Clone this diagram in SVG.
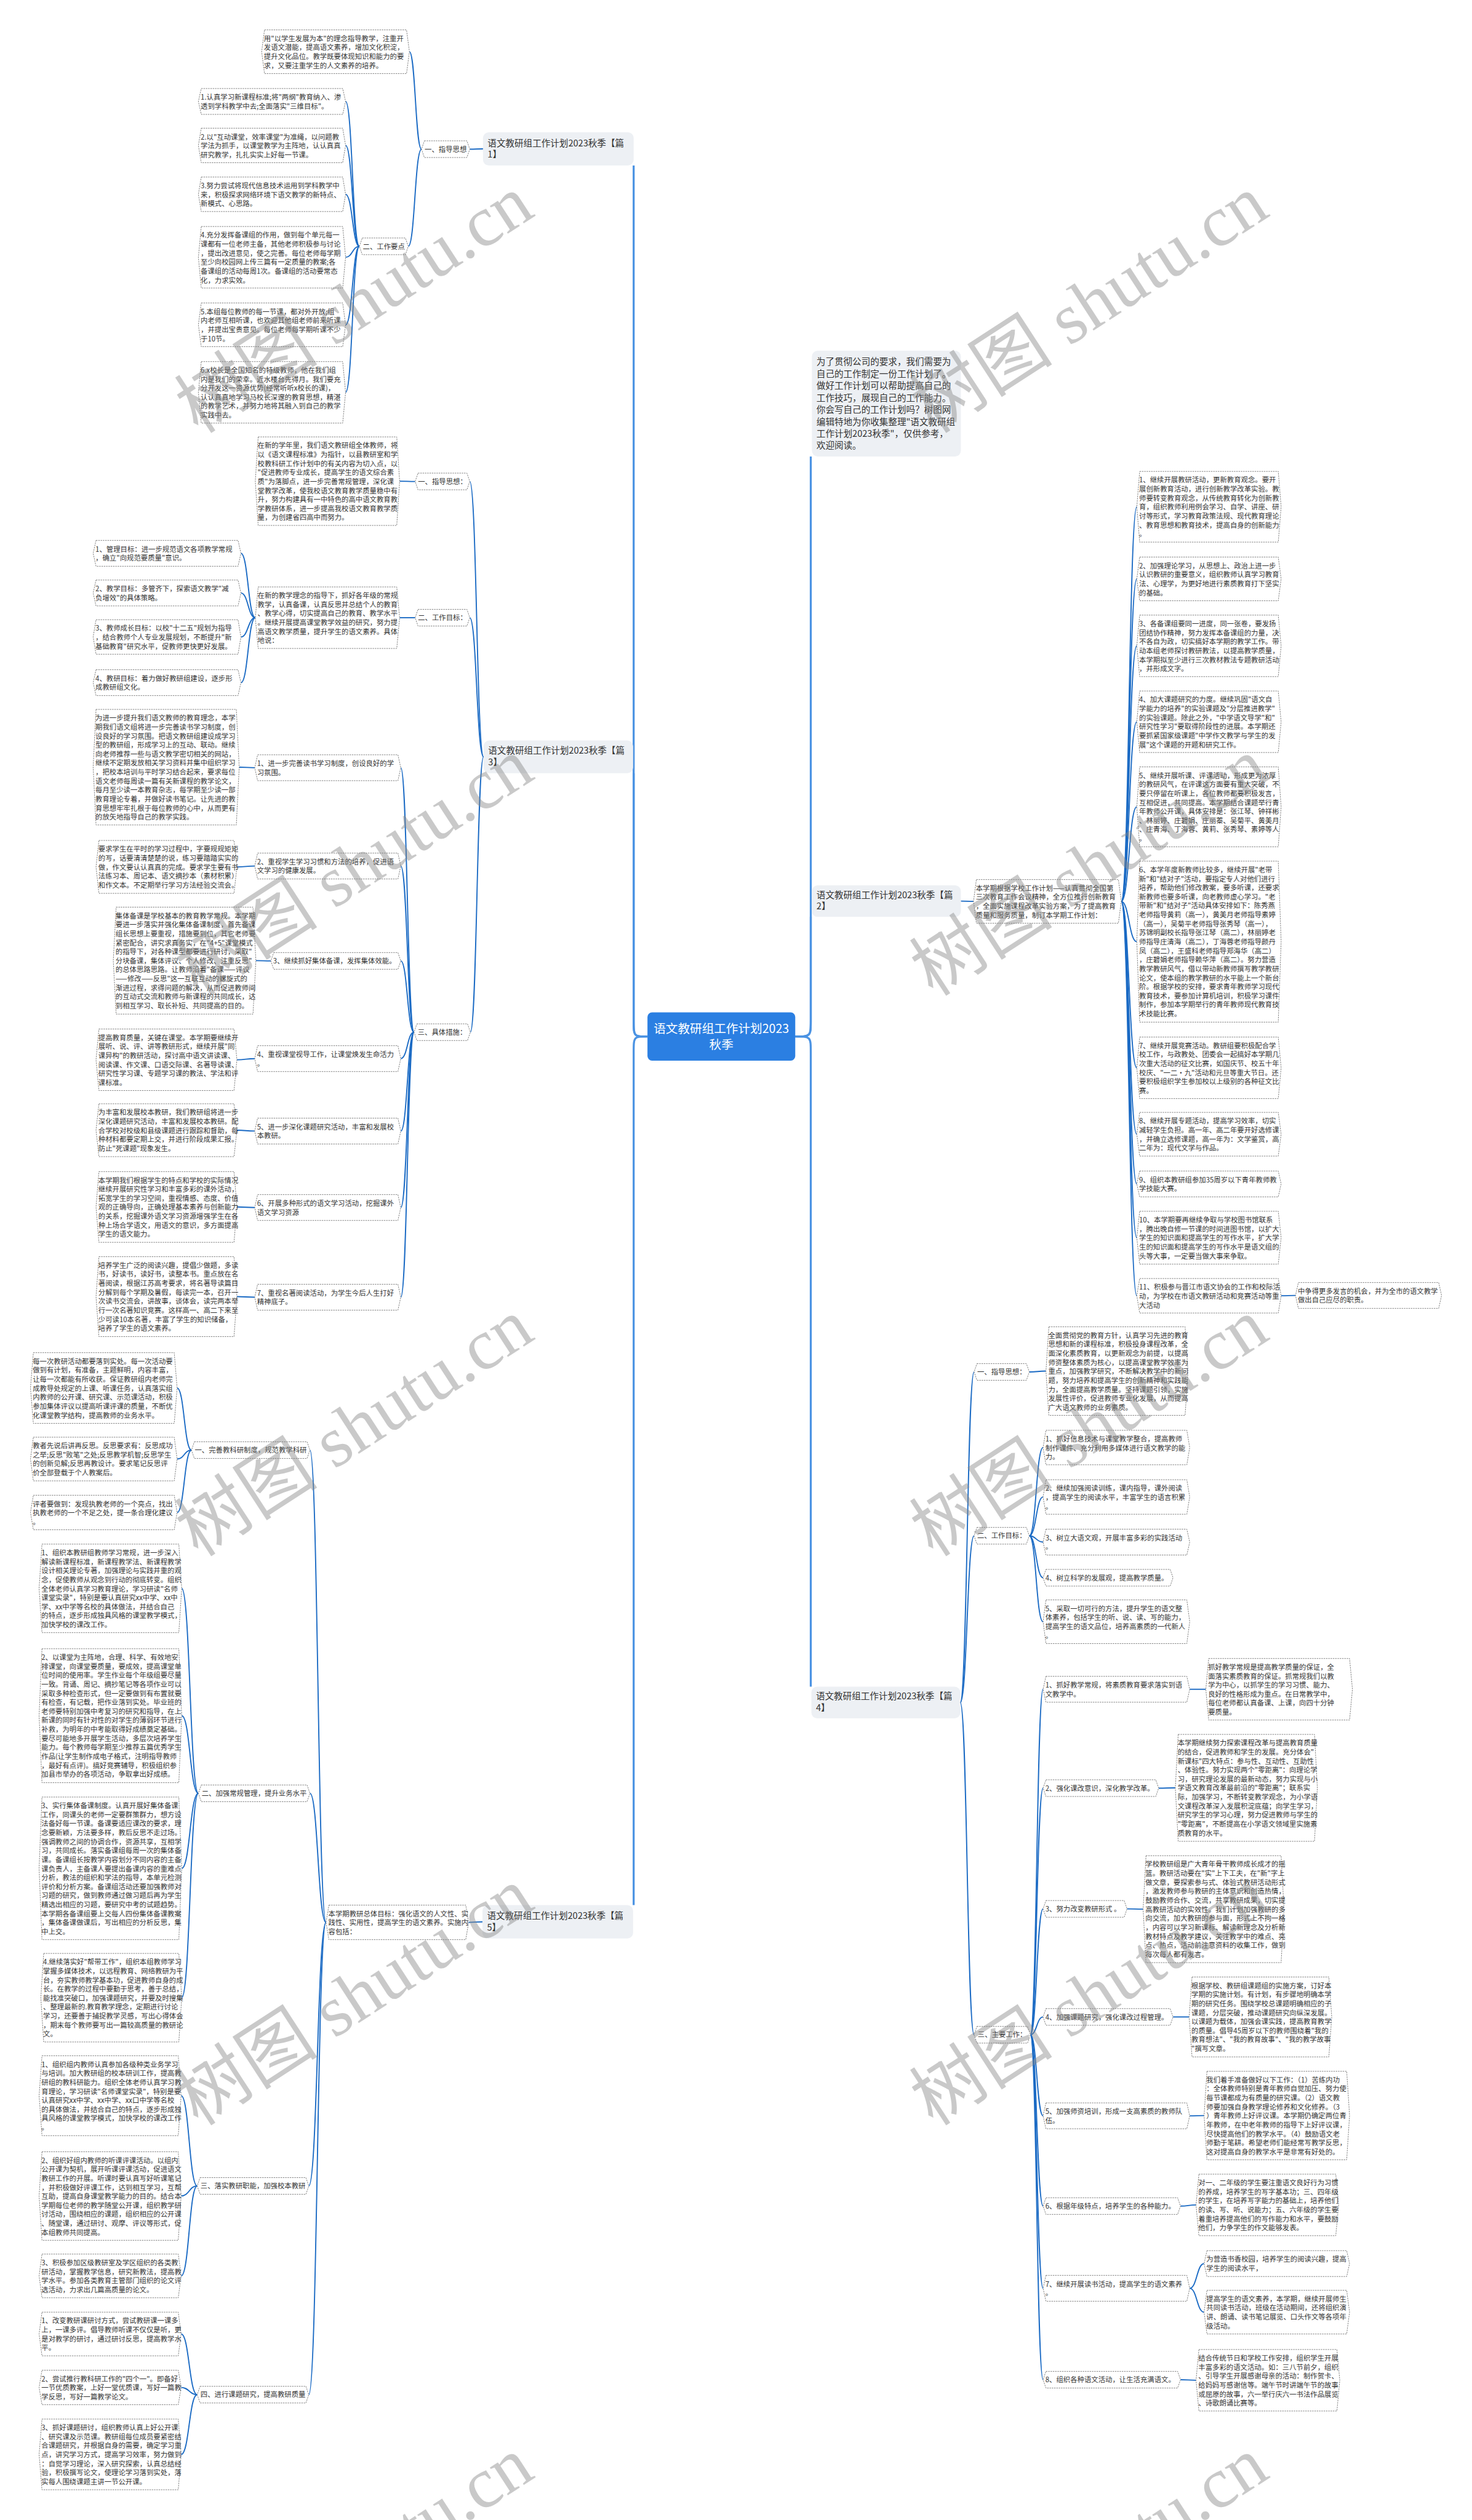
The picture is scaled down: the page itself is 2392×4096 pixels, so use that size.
<svg xmlns="http://www.w3.org/2000/svg" width="2392" height="4096" viewBox="0 0 2392 4096">
<style>
.hx{fill:#fff;stroke:#777;stroke-width:1;stroke-dasharray:2.5 1.5}
.t{font-family:"Noto Sans CJK SC","Liberation Sans",sans-serif;font-size:12.2px;fill:#333}
.tc{text-anchor:middle}
.lb{fill:#edf0f4}
.lt{font-family:"Noto Sans CJK SC","Liberation Sans",sans-serif;font-size:15.6px;fill:#333}
.rt{font-family:"Noto Sans CJK SC","Liberation Sans",sans-serif;font-size:21px;fill:#fff;text-anchor:middle}
.c{fill:none;stroke:#1a6ac4;stroke-width:2}
.r{fill:none;stroke:#4b93e3;stroke-width:3.5}
.wm{font-family:"Liberation Serif","Noto Sans CJK SC",serif;font-size:125px;fill:#888;fill-opacity:.45}
</style>
<rect width="2392" height="4096" fill="#fff"/>
<g transform="scale(0.9344)">
<g id="connectors">
<path class="r" d="M1126,1803C1102,1803 1102,1803 1102,1775L1102,288"/>
<path class="r" d="M1126,1803C1102,1803 1102,1803 1102,1775L1102,1345"/>
<path class="r" d="M1126,1803C1102,1803 1102,1803 1102,1831L1102,3314"/>
<path class="r" d="M1383,1803C1410,1803 1410,1803 1410,1775L1410,794"/>
<path class="r" d="M1383,1803C1410,1803 1410,1803 1410,1775L1410,1595"/>
<path class="r" d="M1383,1803C1410,1803 1410,1803 1410,1831L1410,2934"/>
<path class="c" d="M840,259C828.5,259 828.5,259.5 817,259.5"/>
<path class="c" d="M733,259.5C722.5,259.5 722.5,90 712,90"/>
<path class="c" d="M733,259.5C721.5,259.5 721.5,428.5 710,428.5"/>
<path class="c" d="M625,428.5C613,428.5 613,176.5 601,176.5"/>
<path class="c" d="M625,428.5C613,428.5 613,253 601,253"/>
<path class="c" d="M625,428.5C613,428.5 613,338 601,338"/>
<path class="c" d="M625,428.5C613,428.5 613,447.5 601,447.5"/>
<path class="c" d="M625,428.5C613,428.5 613,565 601,565"/>
<path class="c" d="M625,428.5C613,428.5 613,682.5 601,682.5"/>
<path class="c" d="M841,1316.5C829,1316.5 829,837.5 817,837.5"/>
<path class="c" d="M841,1316.5C829,1316.5 829,1074.5 817,1074.5"/>
<path class="c" d="M841,1316.5C829.5,1316.5 829.5,1795.5 818,1795.5"/>
<path class="c" d="M722,837.5C708.5,837.5 708.5,837 695,837"/>
<path class="c" d="M722,1074.5L695,1074.5"/>
<path class="c" d="M444,1074.5C431.5,1074.5 431.5,962.5 419,962.5"/>
<path class="c" d="M444,1074.5C431.5,1074.5 431.5,1031.5 419,1031.5"/>
<path class="c" d="M444,1074.5C431.5,1074.5 431.5,1108 419,1108"/>
<path class="c" d="M444,1074.5C431.5,1074.5 431.5,1187.5 419,1187.5"/>
<path class="c" d="M720,1795.5C708.5,1795.5 708.5,1335.5 697,1335.5"/>
<path class="c" d="M720,1795.5C708.5,1795.5 708.5,1506.5 697,1506.5"/>
<path class="c" d="M720,1795.5C708.5,1795.5 708.5,1671.5 697,1671.5"/>
<path class="c" d="M720,1795.5C708.5,1795.5 708.5,1841.5 697,1841.5"/>
<path class="c" d="M720,1795.5C708.5,1795.5 708.5,1967.5 697,1967.5"/>
<path class="c" d="M720,1795.5C708.5,1795.5 708.5,2100.5 697,2100.5"/>
<path class="c" d="M720,1795.5C708.5,1795.5 708.5,2256.5 697,2256.5"/>
<path class="c" d="M443,1335.5C429.5,1335.5 429.5,1334.5 416,1334.5"/>
<path class="c" d="M443,1506.5C427.5,1506.5 427.5,1508 412,1508"/>
<path class="c" d="M471,1671.5C458,1671.5 458,1671 445,1671"/>
<path class="c" d="M443,1841.5C427.5,1841.5 427.5,1843.5 412,1843.5"/>
<path class="c" d="M443,1967.5C427.5,1967.5 427.5,1966 412,1966"/>
<path class="c" d="M443,2100.5C427.5,2100.5 427.5,2099.5 412,2099.5"/>
<path class="c" d="M443,2256.5C427.5,2256.5 427.5,2255.5 412,2255.5"/>
<path class="c" d="M839,3343C827,3343 827,3344 815,3344"/>
<path class="c" d="M567,3344C553,3344 553,2522.5 539,2522.5"/>
<path class="c" d="M567,3344C553,3344 553,3119.5 539,3119.5"/>
<path class="c" d="M567,3344C552,3344 552,3802.5 537,3802.5"/>
<path class="c" d="M567,3344C552,3344 552,4165.5 537,4165.5"/>
<path class="c" d="M333,2522.5C320.5,2522.5 320.5,2414.5 308,2414.5"/>
<path class="c" d="M333,2522.5C320.5,2522.5 320.5,2538 308,2538"/>
<path class="c" d="M333,2522.5C320.5,2522.5 320.5,2631 308,2631"/>
<path class="c" d="M345,3119.5C330.5,3119.5 330.5,2763 316,2763"/>
<path class="c" d="M345,3119.5C330.5,3119.5 330.5,2984.5 316,2984.5"/>
<path class="c" d="M345,3119.5C330.5,3119.5 330.5,3250 316,3250"/>
<path class="c" d="M345,3119.5C330.5,3119.5 330.5,3475 316,3475"/>
<path class="c" d="M343,3802.5C329,3802.5 329,3645.5 315,3645.5"/>
<path class="c" d="M343,3802.5C329,3802.5 329,3820 315,3820"/>
<path class="c" d="M343,3802.5C329,3802.5 329,3959 315,3959"/>
<path class="c" d="M343,4165.5C329,4165.5 329,4060 315,4060"/>
<path class="c" d="M343,4165.5C329,4165.5 329,4153 315,4153"/>
<path class="c" d="M343,4165.5C329,4165.5 329,4269.5 315,4269.5"/>
<path class="c" d="M1671,1567.5C1682,1567.5 1682,1568 1693,1568"/>
<path class="c" d="M1950,1568C1963.5,1568 1963.5,881.5 1977,881.5"/>
<path class="c" d="M1950,1568C1963.5,1568 1963.5,1007 1977,1007"/>
<path class="c" d="M1950,1568C1963.5,1568 1963.5,1123.5 1977,1123.5"/>
<path class="c" d="M1950,1568C1963.5,1568 1963.5,1255.5 1977,1255.5"/>
<path class="c" d="M1950,1568C1963.5,1568 1963.5,1403.5 1977,1403.5"/>
<path class="c" d="M1950,1568C1963.5,1568 1963.5,1638 1977,1638"/>
<path class="c" d="M1950,1568C1963.5,1568 1963.5,1857.5 1977,1857.5"/>
<path class="c" d="M1950,1568C1963.5,1568 1963.5,1973 1977,1973"/>
<path class="c" d="M1950,1568C1963.5,1568 1963.5,2059.5 1977,2059.5"/>
<path class="c" d="M1950,1568C1963.5,1568 1963.5,2153 1977,2153"/>
<path class="c" d="M1950,1568C1963.5,1568 1963.5,2254 1977,2254"/>
<path class="c" d="M2228,2254C2240.5,2254 2240.5,2253.5 2253,2253.5"/>
<path class="c" d="M1670,2961.5C1682,2961.5 1682,2386.5 1694,2386.5"/>
<path class="c" d="M1670,2961.5C1682,2961.5 1682,2671.5 1694,2671.5"/>
<path class="c" d="M1670,2961.5C1682,2961.5 1682,3539.5 1694,3539.5"/>
<path class="c" d="M1790,2386.5C1804.5,2386.5 1804.5,2385 1819,2385"/>
<path class="c" d="M1790,2671.5C1802,2671.5 1802,2518 1814,2518"/>
<path class="c" d="M1790,2671.5C1802,2671.5 1802,2604 1814,2604"/>
<path class="c" d="M1790,2671.5C1802,2671.5 1802,2682.5 1814,2682.5"/>
<path class="c" d="M1790,2671.5C1802,2671.5 1802,2744.5 1814,2744.5"/>
<path class="c" d="M1790,2671.5C1802,2671.5 1802,2821 1814,2821"/>
<path class="c" d="M1792,3539.5C1803,3539.5 1803,2938.5 1814,2938.5"/>
<path class="c" d="M1792,3539.5C1803,3539.5 1803,3110.5 1814,3110.5"/>
<path class="c" d="M1792,3539.5C1803,3539.5 1803,3320.5 1814,3320.5"/>
<path class="c" d="M1792,3539.5C1803,3539.5 1803,3508.5 1814,3508.5"/>
<path class="c" d="M1792,3539.5C1803,3539.5 1803,3680.5 1814,3680.5"/>
<path class="c" d="M1792,3539.5C1803,3539.5 1803,3837.5 1814,3837.5"/>
<path class="c" d="M1792,3539.5C1803,3539.5 1803,3980.5 1814,3980.5"/>
<path class="c" d="M1792,3539.5C1803,3539.5 1803,4139.5 1814,4139.5"/>
<path class="c" d="M2069,2938.5L2097,2938.5"/>
<path class="c" d="M2015,3110.5C2029.5,3110.5 2029.5,3110 2044,3110"/>
<path class="c" d="M1960,3320.5C1974,3320.5 1974,3321 1988,3321"/>
<path class="c" d="M2040,3508.5L2068,3508.5"/>
<path class="c" d="M2069,3680.5C2081.5,3680.5 2081.5,3680 2094,3680"/>
<path class="c" d="M2053,3837.5C2066.5,3837.5 2066.5,3835.5 2080,3835.5"/>
<path class="c" d="M2069,3980.5C2081.5,3980.5 2081.5,3937.5 2094,3937.5"/>
<path class="c" d="M2069,3980.5C2081.5,3980.5 2081.5,4022 2094,4022"/>
<path class="c" d="M2053,4139.5C2066.5,4139.5 2066.5,4140.5 2080,4140.5"/>
</g>

<g id="root"><rect x="1126" y="1761" width="257" height="84" rx="8" fill="#2b7fe2"/><text class="rt" x="1254.5" y="1796.5">语文教研组工作计划2023<tspan x="1254.5" dy="28">秋季</tspan></text></g>

<g id="intro"><rect class="lb" x="1412" y="610" width="259" height="184" rx="10"/><text class="lt" x="1420" y="635">为了贯彻公司的要求，我们需要为<tspan x="1420" dy="20.8">自己的工作制定一份工作计划了。</tspan><tspan x="1420" dy="20.8">做好工作计划可以帮助提高自己的</tspan><tspan x="1420" dy="20.8">工作技巧，展现自己的工作能力。</tspan><tspan x="1420" dy="20.8">你会写自己的工作计划吗？树图网</tspan><tspan x="1420" dy="20.8">编辑特地为你收集整理"语文教研组</tspan><tspan x="1420" dy="20.8">工作计划2023秋季"，仅供参考，</tspan><tspan x="1420" dy="20.8">欢迎阅读。</tspan></text></g>

<!-- 篇1 -->
<g id="p1"><rect class="lb" x="840" y="230" width="262" height="58" rx="10"/><text class="lt" x="848" y="254.5">语文教研组工作计划2023秋季【篇<tspan x="848" dy="20">1】</tspan></text></g>
<g id="p1-l1"><path class="hx" d="M738,245H812L817,259.5L812,274H738L733,259.5Z"/><text class="t tc" x="775" y="264">一、指导思想</text></g>
<g id="p1-a1"><path class="hx" d="M460,52H707L712,90L707,128H460L455,90Z"/><text class="t" x="459" y="71.5">用"以学生发展为本"的理念指导教学，注重开<tspan x="459" dy="15.66">发语文潜能，提高语文素养，增加文化积淀，</tspan><tspan x="459" dy="15.66">提升文化品位。教学既要体现知识和能力的要</tspan><tspan x="459" dy="15.66">求，又要注重学生的人文素养的培养。</tspan></text></g>
<g id="p1-l2"><path class="hx" d="M630,414H705L710,428.5L705,443H630L625,428.5Z"/><text class="t tc" x="667.5" y="433">二、工作要点</text></g>
<g id="p1-b1"><path class="hx" d="M350,154H596L601,176.5L596,199H350L345,176.5Z"/><text class="t" x="349" y="173.5">1.认真学习新课程标准;将"两纲"教育纳入、渗<tspan x="349" dy="15.66">透到学科教学中去;全面落实"三维目标"。</tspan></text></g>
<g id="p1-b2"><path class="hx" d="M350,223H596L601,253L596,283H350L345,253Z"/><text class="t" x="349" y="242.5">2.以"互动课堂，效率课堂"为准绳，以问题教<tspan x="349" dy="15.66">学法为抓手，以课堂教学为主阵地，认认真真</tspan><tspan x="349" dy="15.66">研究教学，扎扎实实上好每一节课。</tspan></text></g>
<g id="p1-b3"><path class="hx" d="M350,308H596L601,338L596,368H350L345,338Z"/><text class="t" x="349" y="327.5">3.努力尝试将现代信息技术运用到学科教学中<tspan x="349" dy="15.66">来，积极探求网络环境下语文教学的新特点、</tspan><tspan x="349" dy="15.66">新模式、心思路。</tspan></text></g>
<g id="p1-b4"><path class="hx" d="M350,394H596L601,447.5L596,501H350L345,447.5Z"/><text class="t" x="349" y="413.5">4.充分发挥备课组的作用，做到每个单元每一<tspan x="349" dy="15.66">课都有一位老师主备，其他老师积极参与讨论</tspan><tspan x="349" dy="15.66">，提出改进意见，使之完善。每位老师每学期</tspan><tspan x="349" dy="15.66">至少向校园网上传三篇有一定质量的教案;各</tspan><tspan x="349" dy="15.66">备课组的活动每周1次。备课组的活动要常态</tspan><tspan x="349" dy="15.66">化，力求实效。</tspan></text></g>
<g id="p1-b5"><path class="hx" d="M350,527H596L601,565L596,603H350L345,565Z"/><text class="t" x="349" y="546.5">5.本组每位教师的每一节课，都对外开放;组<tspan x="349" dy="15.66">内老师互相听课，也欢迎其他组老师前来听课</tspan><tspan x="349" dy="15.66">，并提出宝贵意见。每位老师每学期听课不少</tspan><tspan x="349" dy="15.66">于10节。</tspan></text></g>
<g id="p1-b6"><path class="hx" d="M350,629H596L601,682.5L596,736H350L345,682.5Z"/><text class="t" x="349" y="648.5">6.x校长是全国知名的特级教师，他在我们组<tspan x="349" dy="15.66">内是我们的荣幸。近水楼台先得月。我们要充</tspan><tspan x="349" dy="15.66">分开发这一资源优势(经常听听x校长的课)，</tspan><tspan x="349" dy="15.66">认认真真地学习马校长深邃的教育思想，精湛</tspan><tspan x="349" dy="15.66">的教学艺术，并努力地将其融入到自己的教学</tspan><tspan x="349" dy="15.66">实践中去。</tspan></text></g>

<!-- 篇3 -->
<g id="p3"><rect class="lb" x="841" y="1288" width="260" height="57" rx="10"/><text class="lt" x="849" y="1311.5">语文教研组工作计划2023秋季【篇<tspan x="849" dy="20">3】</tspan></text></g>
<g id="p3-l1"><path class="hx" d="M727,823H812L817,837.5L812,852H727L722,837.5Z"/><text class="t tc" x="769.5" y="842">一、指导思想：</text></g>
<g id="p3-l1a"><path class="hx" d="M449,760H690L695,837L690,914H449L444,837Z"/><text class="t" x="448" y="779.5">在新的学年里，我们语文教研组全体教师，将<tspan x="448" dy="15.66">以《语文课程标准》为指针，以县教研室和学</tspan><tspan x="448" dy="15.66">校教科研工作计划中的有关内容为切入点，以</tspan><tspan x="448" dy="15.66">"促进教师专业成长，提高学生的语文综合素</tspan><tspan x="448" dy="15.66">质"为落脚点，进一步完善常规管理，深化课</tspan><tspan x="448" dy="15.66">堂教学改革，使我校语文教育教学质量稳中有</tspan><tspan x="448" dy="15.66">升，努力构建具有一中特色的高中语文教育教</tspan><tspan x="448" dy="15.66">学教研体系，进一步提高我校语文教育教学质</tspan><tspan x="448" dy="15.66">量，为创建省四高中而努力。</tspan></text></g>
<g id="p3-l2"><path class="hx" d="M727,1060H812L817,1074.5L812,1089H727L722,1074.5Z"/><text class="t tc" x="769.5" y="1079">二、工作目标：</text></g>
<g id="p3-goal"><path class="hx" d="M449,1021H690L695,1074.5L690,1128H449L444,1074.5Z"/><text class="t" x="448" y="1040.5">在新的教学理念的指导下，抓好各年级的常规<tspan x="448" dy="15.66">教学，认真备课，认真反思并总结个人的教育</tspan><tspan x="448" dy="15.66">、教学心得，切实提高自己的教育、教学水平</tspan><tspan x="448" dy="15.66">。继续开展提高课堂教学效益的研究，努力提</tspan><tspan x="448" dy="15.66">高语文教学质量，提升学生的语文素养。具体</tspan><tspan x="448" dy="15.66">地说：</tspan></text></g>
<g id="p3-s1"><path class="hx" d="M167,940H414L419,962.5L414,985H167L162,962.5Z"/><text class="t" x="166" y="959.5">1、管理目标：进一步规范语文各项教学常规<tspan x="166" dy="15.66">，确立"向规范要质量"意识。</tspan></text></g>
<g id="p3-s2"><path class="hx" d="M167,1009H414L419,1031.5L414,1054H167L162,1031.5Z"/><text class="t" x="166" y="1028.5">2、教学目标：多管齐下，探索语文教学"减<tspan x="166" dy="15.66">负增效"的具体策略。</tspan></text></g>
<g id="p3-s3"><path class="hx" d="M167,1078H414L419,1108L414,1138H167L162,1108Z"/><text class="t" x="166" y="1097.5">3、教师成长目标：以校"十二五"规划为指导<tspan x="166" dy="15.66">，结合教师个人专业发展规划，不断提升"新</tspan><tspan x="166" dy="15.66">基础教育"研究水平，促教师更快更好发展。</tspan></text></g>
<g id="p3-s4"><path class="hx" d="M167,1165H414L419,1187.5L414,1210H167L162,1187.5Z"/><text class="t" x="166" y="1184.5">4、教研目标：着力做好教研组建设，逐步形<tspan x="166" dy="15.66">成教研组文化。</tspan></text></g>
<g id="p3-l3"><path class="hx" d="M725,1781H813L818,1795.5L813,1810H725L720,1795.5Z"/><text class="t tc" x="769" y="1800">三、具体措施：</text></g>
<g id="p3-i1"><path class="hx" d="M448,1313H692L697,1335.5L692,1358H448L443,1335.5Z"/><text class="t" x="447" y="1332.5">1、进一步完善读书学习制度，创设良好的学<tspan x="447" dy="15.66">习氛围。</tspan></text></g>
<g id="p3-i2"><path class="hx" d="M448,1484H692L697,1506.5L692,1529H448L443,1506.5Z"/><text class="t" x="447" y="1503.5">2、重视学生学习习惯和方法的培养，促进语<tspan x="447" dy="15.66">文学习的健康发展。</tspan></text></g>
<g id="p3-i3"><path class="hx" d="M476,1657H692L697,1671.5L692,1686H476L471,1671.5Z"/><text class="t" x="475" y="1676">3、继续抓好集体备课，发挥集体效能。</text></g>
<g id="p3-i4"><path class="hx" d="M448,1819H692L697,1841.5L692,1864H448L443,1841.5Z"/><text class="t" x="447" y="1838.5">4、重视课堂视导工作，让课堂焕发生命活力<tspan x="447" dy="15.66">。</tspan></text></g>
<g id="p3-i5"><path class="hx" d="M448,1945H692L697,1967.5L692,1990H448L443,1967.5Z"/><text class="t" x="447" y="1964.5">5、进一步深化课题研究活动，丰富和发展校<tspan x="447" dy="15.66">本教研。</tspan></text></g>
<g id="p3-i6"><path class="hx" d="M448,2078H692L697,2100.5L692,2123H448L443,2100.5Z"/><text class="t" x="447" y="2097.5">6、开展多种形式的语文学习活动，挖掘课外<tspan x="447" dy="15.66">语文学习资源</tspan></text></g>
<g id="p3-i7"><path class="hx" d="M448,2234H692L697,2256.5L692,2279H448L443,2256.5Z"/><text class="t" x="447" y="2253.5">7、重视名著阅读活动，为学生今后人生打好<tspan x="447" dy="15.66">精神底子。</tspan></text></g>
<g id="p3-L1"><path class="hx" d="M167,1234H411L416,1334.5L411,1435H167L162,1334.5Z"/><text class="t" x="166" y="1253.5">为进一步提升我们语文教师的教育理念，本学<tspan x="166" dy="15.66">期我们语文组将进一步完善读书学习制度，创</tspan><tspan x="166" dy="15.66">设良好的学习氛围。把语文教研组建设成学习</tspan><tspan x="166" dy="15.66">型的教研组，形成学习上的互动、联动。继续</tspan><tspan x="166" dy="15.66">向老师推荐一些与语文教学密切相关的网站，</tspan><tspan x="166" dy="15.66">继续不定期发放相关学习资料并集中组织学习</tspan><tspan x="166" dy="15.66">，把校本培训与平时学习结合起来，要求每位</tspan><tspan x="166" dy="15.66">语文老师每周读一篇有关新课程的教学论文，</tspan><tspan x="166" dy="15.66">每月至少读一本教育杂志，每学期至少读一部</tspan><tspan x="166" dy="15.66">教育理论专着，并做好读书笔记。让先进的教</tspan><tspan x="166" dy="15.66">育思想牢牢扎根于每位教师的心中，从而更有</tspan><tspan x="166" dy="15.66">的放矢地指导自己的教学实践。</tspan></text></g>
<g id="p3-L2"><path class="hx" d="M172,1462H407L412,1508L407,1554H172L167,1508Z"/><text class="t" x="171" y="1481.5">要求学生在平时的学习过程中，字要规规矩矩<tspan x="171" dy="15.66">的写，话要清清楚楚的说，练习要踏踏实实的</tspan><tspan x="171" dy="15.66">做，作文要认认真真的完成。要求学生要有书</tspan><tspan x="171" dy="15.66">法练习本、周记本、语文摘抄本（素材积累）</tspan><tspan x="171" dy="15.66">和作文本。不定期举行学习方法经验交流会。</tspan></text></g>
<g id="p3-L3"><path class="hx" d="M202,1578H440L445,1671L440,1764H202L197,1671Z"/><text class="t" x="201" y="1597.5">集体备课是学校基本的教育教学常规。本学期<tspan x="201" dy="15.66">要进一步落实并强化集体备课制度，首先备课</tspan><tspan x="201" dy="15.66">组长思想上要重视，措施要到位，其它老师要</tspan><tspan x="201" dy="15.66">紧密配合，讲究求真务实，在"4+5"课堂模式</tspan><tspan x="201" dy="15.66">的指导下，对各种课型都要进行研讨，采取"</tspan><tspan x="201" dy="15.66">分块备课，集体评议、个人修改、注重反思"</tspan><tspan x="201" dy="15.66">的总体思路思路。让教师沿着"备课——评议</tspan><tspan x="201" dy="15.66">——修改——反思"这一互联互动的螺旋式的</tspan><tspan x="201" dy="15.66">渐进过程，求得问题的解决，从而促进教师间</tspan><tspan x="201" dy="15.66">的互动式交流和教师与新课程的共同成长，达</tspan><tspan x="201" dy="15.66">到相互学习、取长补短、共同提高的目的。</tspan></text></g>
<g id="p3-L4"><path class="hx" d="M172,1790H407L412,1843.5L407,1897H172L167,1843.5Z"/><text class="t" x="171" y="1809.5">提高教育质量，关键在课堂。本学期要继续开<tspan x="171" dy="15.66">展听、说、评、讲等教研形式，继续开展"同</tspan><tspan x="171" dy="15.66">课异构"的教研活动，探讨高中语文讲读课、</tspan><tspan x="171" dy="15.66">阅读课、作文课、口语交际课、名著导读课、</tspan><tspan x="171" dy="15.66">研究性学习课、专题学习课的教法、学法和评</tspan><tspan x="171" dy="15.66">课标准。</tspan></text></g>
<g id="p3-L5"><path class="hx" d="M172,1920H407L412,1966L407,2012H172L167,1966Z"/><text class="t" x="171" y="1939.5">为丰富和发展校本教研，我们教研组将进一步<tspan x="171" dy="15.66">深化课题研究活动，丰富和发展校本教研。配</tspan><tspan x="171" dy="15.66">合学校对校级和县级课题进行跟踪和督助，每</tspan><tspan x="171" dy="15.66">种材料都要定期上交，并进行阶段成果汇报。</tspan><tspan x="171" dy="15.66">防止"死课题"现象发生。</tspan></text></g>
<g id="p3-L6"><path class="hx" d="M172,2038H407L412,2099.5L407,2161H172L167,2099.5Z"/><text class="t" x="171" y="2057.5">本学期我们根据学生的特点和学校的实际情况<tspan x="171" dy="15.66">继续开展研究性学习和丰富多彩的课外活动，</tspan><tspan x="171" dy="15.66">拓宽学生的学习空间，重视情感、态度、价值</tspan><tspan x="171" dy="15.66">观的正确导向，正确处理基本素养与创新能力</tspan><tspan x="171" dy="15.66">的关系，挖掘课外语文学习资源增强学生在各</tspan><tspan x="171" dy="15.66">种上场合学语文，用语文的意识，多方面提高</tspan><tspan x="171" dy="15.66">学生的语文能力。</tspan></text></g>
<g id="p3-L7"><path class="hx" d="M172,2186H407L412,2255.5L407,2325H172L167,2255.5Z"/><text class="t" x="171" y="2205.5">培养学生广泛的阅读兴趣，提倡少做题，多读<tspan x="171" dy="15.66">书，好读书，读好书，读整本书。重点放在名</tspan><tspan x="171" dy="15.66">著阅读，根据江苏高考要求，将名著导读篇目</tspan><tspan x="171" dy="15.66">分解到每个学期及暑假，每读完一本，召开一</tspan><tspan x="171" dy="15.66">次读书交流会，讲故事，谈体会，读完两本举</tspan><tspan x="171" dy="15.66">行一次名著知识竞赛。这样高一、高二下来至</tspan><tspan x="171" dy="15.66">少可读10本名著，丰富了学生的知识储备，</tspan><tspan x="171" dy="15.66">培养了学生的语文素养。</tspan></text></g>

<!-- 篇5 -->
<g id="p5"><rect class="lb" x="839" y="3314" width="262" height="58" rx="10"/><text class="lt" x="847" y="3338.5">语文教研组工作计划2023秋季【篇<tspan x="847" dy="20">5】</tspan></text></g>
<g id="p5-goal"><path class="hx" d="M572,3314H810L815,3344L810,3374H572L567,3344Z"/><text class="t" x="571" y="3333.5">本学期教研总体目标：强化语文的人文性、实<tspan x="571" dy="15.66">践性、实用性，提高学生的语文素养。实施内</tspan><tspan x="571" dy="15.66">容包括：</tspan></text></g>
<g id="p5-g1"><path class="hx" d="M338,2508H534L539,2522.5L534,2537H338L333,2522.5Z"/><text class="t tc" x="436" y="2527">一、完善教科研制度，规范教学科研</text></g>
<g id="p5-g1a"><path class="hx" d="M58,2353H303L308,2414.5L303,2476H58L53,2414.5Z"/><text class="t" x="57" y="2372.5">每一次教研活动都要落到实处。每一次活动要<tspan x="57" dy="15.66">做到有计划，有准备，主题鲜明，内容丰富，</tspan><tspan x="57" dy="15.66">让每一次都能有所收获。保证教研组内老师完</tspan><tspan x="57" dy="15.66">成教导处规定的上课、听课任务，认真落实组</tspan><tspan x="57" dy="15.66">内教师的公开课、研究课、示范课活动，积极</tspan><tspan x="57" dy="15.66">参加集体评议以提高听课评课的质量，不断优</tspan><tspan x="57" dy="15.66">化课堂教学结构，提高教师的业务水平。</tspan></text></g>
<g id="p5-g1b"><path class="hx" d="M58,2500H303L308,2538L303,2576H58L53,2538Z"/><text class="t" x="57" y="2519.5">教者先说后讲再反思。反思要求有：反思成功<tspan x="57" dy="15.66">之举;反思"败笔"之处;反思教学机智;反思学生</tspan><tspan x="57" dy="15.66">的创新见解;反思再教设计。要求笔记反思评</tspan><tspan x="57" dy="15.66">价全部登载于个人教案后。</tspan></text></g>
<g id="p5-g1c"><path class="hx" d="M58,2601H303L308,2631L303,2661H58L53,2631Z"/><text class="t" x="57" y="2620.5">评者要做到：发现执教老师的一个亮点，找出<tspan x="57" dy="15.66">执教老师的一个不足之处，提一条合理化建议</tspan><tspan x="57" dy="15.66">。</tspan></text></g>
<g id="p5-g2"><path class="hx" d="M350,3105H534L539,3119.5L534,3134H350L345,3119.5Z"/><text class="t tc" x="442" y="3124">二、加强常规管理，提升业务水平</text></g>
<g id="p5-g2-1"><path class="hx" d="M73,2686H311L316,2763L311,2840H73L68,2763Z"/><text class="t" x="72" y="2705.5">1、组织本教研组教师学习常规，进一步深入<tspan x="72" dy="15.66">解读新课程标准，新课程教学法、新课程教学</tspan><tspan x="72" dy="15.66">设计相关理论专著，加强理论与实践并重的观</tspan><tspan x="72" dy="15.66">念，促使教师从观念到行动的彻底转变。组织</tspan><tspan x="72" dy="15.66">全体老师认真学习教育理论，学习研读"名师</tspan><tspan x="72" dy="15.66">课堂实录"，特别是要认真研究xx中学、xx中</tspan><tspan x="72" dy="15.66">学、xx中学等名校的具体做法，并结合自己</tspan><tspan x="72" dy="15.66">的特点，逐步形成独具风格的课堂教学模式，</tspan><tspan x="72" dy="15.66">加快学校的课改工作。</tspan></text></g>
<g id="p5-g2-2"><path class="hx" d="M73,2868H311L316,2984.5L311,3101H73L68,2984.5Z"/><text class="t" x="72" y="2887.5">2、以课堂为主阵地，合理、科学、有效地安<tspan x="72" dy="15.66">排课堂，向课堂要质量，要成效，提高课堂单</tspan><tspan x="72" dy="15.66">位时间的使用率。学生作业每个年级组要尽量</tspan><tspan x="72" dy="15.66">一致。背诵、周记、摘抄笔记等各项作业可以</tspan><tspan x="72" dy="15.66">采取多种检查形式，但一定要做到有布置就要</tspan><tspan x="72" dy="15.66">有检查，有记载，把作业落到实处。毕业班的</tspan><tspan x="72" dy="15.66">老师要特别加强中考复习的研究和指导，在上</tspan><tspan x="72" dy="15.66">新课的同时有针对性的对学生的薄弱环节进行</tspan><tspan x="72" dy="15.66">补救，为明年的中考能取得好成绩奠定基础。</tspan><tspan x="72" dy="15.66">要尽可能地多开展学生活动，多层次培养学生</tspan><tspan x="72" dy="15.66">能力。每个教师每学期至少推荐五篇优秀学生</tspan><tspan x="72" dy="15.66">作品(让学生制作成电子格式，注明指导教师</tspan><tspan x="72" dy="15.66">，最好有点评)。搞好竞赛辅导，积极组织参</tspan><tspan x="72" dy="15.66">加县市举办的各项活动，争取拿出好成绩。</tspan></text></g>
<g id="p5-g2-3"><path class="hx" d="M73,3126H311L316,3250L311,3374H73L68,3250Z"/><text class="t" x="72" y="3145.5">3、实行集体备课制度。认真开展好集体备课<tspan x="72" dy="15.66">工作，同课头的老师一定要群策群力，想方设</tspan><tspan x="72" dy="15.66">法备好每一节课。备课要适应课改的要求，理</tspan><tspan x="72" dy="15.66">念要新颖，方法要多样，教后反思不走过场。</tspan><tspan x="72" dy="15.66">强调教师之间的协调合作，资源共享，互相学</tspan><tspan x="72" dy="15.66">习，共同成长。落实备课组每周一次的集体备</tspan><tspan x="72" dy="15.66">课。备课组长按教学内容划分不同内容的主备</tspan><tspan x="72" dy="15.66">课负责人，主备课人要提出备课内容的重难点</tspan><tspan x="72" dy="15.66">分析，教法的组织和学法的指导，本单元检测</tspan><tspan x="72" dy="15.66">评价和分析方案。备课组活动还要加强教师对</tspan><tspan x="72" dy="15.66">习题的研究，做到教师通过做习题后再为学生</tspan><tspan x="72" dy="15.66">精选出相应的习题，要研究中考的试题趋势。</tspan><tspan x="72" dy="15.66">本学期各备课组要上交每人四份集体备课教案</tspan><tspan x="72" dy="15.66">，集体备课做课后，写出相应的分析反思，集</tspan><tspan x="72" dy="15.66">中上交。</tspan></text></g>
<g id="p5-g2-4"><path class="hx" d="M76,3398H311L316,3475L311,3552H76L71,3475Z"/><text class="t" x="75" y="3417.5">4.继续落实好"帮带工作"，组织本组教师学习<tspan x="75" dy="15.66">掌握多媒体技术，以远程教育、网络教研为平</tspan><tspan x="75" dy="15.66">台，夯实教师教学基本功，促进教师自身的成</tspan><tspan x="75" dy="15.66">长。在教学的过程中要勤于思考，善于总结，</tspan><tspan x="75" dy="15.66">能找准突破口，加强课题研究，并要及时搜集</tspan><tspan x="75" dy="15.66">、整理最新的.教育教学理念，定期进行讨论</tspan><tspan x="75" dy="15.66">学习，还要善于捕捉教学灵感，写出心得体会</tspan><tspan x="75" dy="15.66">，期末每个教师要写出一篇较高质量的教研论</tspan><tspan x="75" dy="15.66">文。</tspan></text></g>
<g id="p5-g3"><path class="hx" d="M348,3788H532L537,3802.5L532,3817H348L343,3802.5Z"/><text class="t tc" x="440" y="3807">三、落实教研职能，加强校本教研</text></g>
<g id="p5-g3-1"><path class="hx" d="M73,3576H310L315,3645.5L310,3715H73L68,3645.5Z"/><text class="t" x="72" y="3595.5">1、组织组内教师认真参加各级种类业务学习<tspan x="72" dy="15.66">与培训。加大教研组的校本研训工作，提高教</tspan><tspan x="72" dy="15.66">研组的教科研能力。组织全体老师认真学习教</tspan><tspan x="72" dy="15.66">育理论，学习研读"名师课堂实录"，特别是要</tspan><tspan x="72" dy="15.66">认真研究xx中学、xx中学、xx口中学等名校</tspan><tspan x="72" dy="15.66">的具体做法，并结合自己的特点，逐步形成独</tspan><tspan x="72" dy="15.66">具风格的课堂教学模式，加快学校的课改工作</tspan><tspan x="72" dy="15.66">。</tspan></text></g>
<g id="p5-g3-2"><path class="hx" d="M73,3743H310L315,3820L310,3897H73L68,3820Z"/><text class="t" x="72" y="3762.5">2、组织好组内教师的听课评课活动。以组内<tspan x="72" dy="15.66">公开课为契机，展开听课评课活动，促进语文</tspan><tspan x="72" dy="15.66">教研工作的开展。听课时要认真写好听课笔记</tspan><tspan x="72" dy="15.66">，并积极做好评课工作，达到相互学习，互帮</tspan><tspan x="72" dy="15.66">互助，提高自身课堂教学能力的目的。结合本</tspan><tspan x="72" dy="15.66">学期每位老师的教学随堂公开课，组织教学研</tspan><tspan x="72" dy="15.66">讨活动，围绕相应的课题，组织相应的公开课</tspan><tspan x="72" dy="15.66">、随堂课，通过研讨、观摩、评议等形式，促</tspan><tspan x="72" dy="15.66">本组教师共同提高。</tspan></text></g>
<g id="p5-g3-3"><path class="hx" d="M73,3921H310L315,3959L310,3997H73L68,3959Z"/><text class="t" x="72" y="3940.5">3、积极参加区级教研室及学区组织的各类教<tspan x="72" dy="15.66">研活动，掌握教学信息，研究新教法，提高教</tspan><tspan x="72" dy="15.66">学水平。参加各类教育主管部门组织的论文评</tspan><tspan x="72" dy="15.66">选活动，力求出几篇高质量的论文。</tspan></text></g>
<g id="p5-g4"><path class="hx" d="M348,4151H532L537,4165.5L532,4180H348L343,4165.5Z"/><text class="t tc" x="440" y="4170">四、进行课题研究，提高教研质量</text></g>
<g id="p5-g4-1"><path class="hx" d="M73,4022H310L315,4060L310,4098H73L68,4060Z"/><text class="t" x="72" y="4041.5">1、改变教研课研讨方式，尝试教研课一课多<tspan x="72" dy="15.66">上，一课多评。倡导教师听课不仅仅是听，更</tspan><tspan x="72" dy="15.66">是对教学的研讨，通过研讨反思，提高教学水</tspan><tspan x="72" dy="15.66">平。</tspan></text></g>
<g id="p5-g4-2"><path class="hx" d="M73,4123H310L315,4153L310,4183H73L68,4153Z"/><text class="t" x="72" y="4142.5">2、尝试推行教科研工作的"四个一"。即备好<tspan x="72" dy="15.66">一节优质教案，上好一堂优质课，写好一篇教</tspan><tspan x="72" dy="15.66">学反思，写好一篇教学论文。</tspan></text></g>
<g id="p5-g4-3"><path class="hx" d="M73,4208H310L315,4269.5L310,4331H73L68,4269.5Z"/><text class="t" x="72" y="4227.5">3、抓好课题研讨，组织教师认真上好公开课<tspan x="72" dy="15.66">、研究课及示范课。教研组每位成员要紧密结</tspan><tspan x="72" dy="15.66">合课题研究，并根据自身的需要，确定学习重</tspan><tspan x="72" dy="15.66">点，讲究学习方式，提高学习效率，努力做到</tspan><tspan x="72" dy="15.66">：自觉学习理论，深入研究探索，认真总结经</tspan><tspan x="72" dy="15.66">验，积极撰写论文，使理论学习落到实处，落</tspan><tspan x="72" dy="15.66">实每人围绕课题主讲一节公开课。</tspan></text></g>

<!-- 篇2 -->
<g id="p2"><rect class="lb" x="1412" y="1540" width="259" height="55" rx="10"/><text class="lt" x="1420" y="1562">语文教研组工作计划2023秋季【篇<tspan x="1420" dy="20">2】</tspan></text></g>
<g id="p2-c"><path class="hx" d="M1698,1530H1945L1950,1568L1945,1606H1698L1693,1568Z"/><text class="t" x="1697" y="1549.5">本学期根据学校工作计划——认真贯彻全国第<tspan x="1697" dy="15.66">三次教育工作会议精神，全方位推行创新教育</tspan><tspan x="1697" dy="15.66">，全面实施课程改革实验方案，为了提高教育</tspan><tspan x="1697" dy="15.66">质量和服务质量，制订本学期工作计划：</tspan></text></g>
<g id="p2-1"><path class="hx" d="M1982,820H2223L2228,881.5L2223,943H1982L1977,881.5Z"/><text class="t" x="1981" y="839.5">1、继续开展教研活动，更新教育观念。要开<tspan x="1981" dy="15.66">展创新教育活动，进行创新教学改革实验。教</tspan><tspan x="1981" dy="15.66">师要转变教育观念，从传统教育转化为创新教</tspan><tspan x="1981" dy="15.66">育，组织教师利用例会学习、自学、讲座、研</tspan><tspan x="1981" dy="15.66">讨等形式，学习教育政策法规、现代教育理论</tspan><tspan x="1981" dy="15.66">、教育思想和教育技术，提高自身的创新能力</tspan><tspan x="1981" dy="15.66">。</tspan></text></g>
<g id="p2-2"><path class="hx" d="M1982,969H2223L2228,1007L2223,1045H1982L1977,1007Z"/><text class="t" x="1981" y="988.5">2、加强理论学习，从思想上、政治上进一步<tspan x="1981" dy="15.66">认识教研的重要意义，组织教师认真学习教育</tspan><tspan x="1981" dy="15.66">法、心理学，为更好地进行素质教育打下坚实</tspan><tspan x="1981" dy="15.66">的基础。</tspan></text></g>
<g id="p2-3"><path class="hx" d="M1982,1070H2223L2228,1123.5L2223,1177H1982L1977,1123.5Z"/><text class="t" x="1981" y="1089.5">3、各备课组要同一进度，同一张卷，要发扬<tspan x="1981" dy="15.66">团结协作精神，努力发挥本备课组的力量，决</tspan><tspan x="1981" dy="15.66">不各自为政，切实搞好本学期的教学工作。带</tspan><tspan x="1981" dy="15.66">动本组老师探讨教研教法，以提高教学质量，</tspan><tspan x="1981" dy="15.66">本学期拟至少进行三次教材教法专题教研活动</tspan><tspan x="1981" dy="15.66">，并形成文字。</tspan></text></g>
<g id="p2-4"><path class="hx" d="M1982,1202H2223L2228,1255.5L2223,1309H1982L1977,1255.5Z"/><text class="t" x="1981" y="1221.5">4、加大课题研究的力度。继续巩固"语文自<tspan x="1981" dy="15.66">学能力的培养"的实验课题及"分层推进教学"</tspan><tspan x="1981" dy="15.66">的实验课题。除此之外，"中学语文导学"和"</tspan><tspan x="1981" dy="15.66">研究性学习"要取得阶段性的进展。本学期还</tspan><tspan x="1981" dy="15.66">要抓紧国家级课题"中学作文教学与学生的发</tspan><tspan x="1981" dy="15.66">展"这个课题的开题和研究工作。</tspan></text></g>
<g id="p2-5"><path class="hx" d="M1982,1334H2223L2228,1403.5L2223,1473H1982L1977,1403.5Z"/><text class="t" x="1981" y="1353.5">5、继续开展听课、评课活动，形成更为浓厚<tspan x="1981" dy="15.66">的教研风气，在评课这方面要有重大突破，不</tspan><tspan x="1981" dy="15.66">要只停留在听课上，各位教师都要积极发言，</tspan><tspan x="1981" dy="15.66">互相促进，共同提高。本学期结合课题举行青</tspan><tspan x="1981" dy="15.66">年教师公开课，具体安排是：张江琴、钟祥彬</tspan><tspan x="1981" dy="15.66">、林丽婷、庄碧娟、庄丽蓁、吴菊平、黄美月</tspan><tspan x="1981" dy="15.66">、庄青海、丁海蓉、黄莉、张秀琴、素婷等人</tspan><tspan x="1981" dy="15.66">。</tspan></text></g>
<g id="p2-6"><path class="hx" d="M1982,1498H2223L2228,1638L2223,1778H1982L1977,1638Z"/><text class="t" x="1981" y="1517.5">6、本学年度新教师比较多，继续开展"老带<tspan x="1981" dy="15.66">新"和"结对子"活动，要指定专人对他们进行</tspan><tspan x="1981" dy="15.66">培养，帮助他们修改教案，要多听课，还要求</tspan><tspan x="1981" dy="15.66">新教师也要多听课，向老教师虚心学习。"老</tspan><tspan x="1981" dy="15.66">带新"和"结对子"活动具体安排如下：陈秀燕</tspan><tspan x="1981" dy="15.66">老师指导黄莉（高一），黄美月老师指导素婷</tspan><tspan x="1981" dy="15.66">（高一），吴菊平老师指导张秀琴（高一），</tspan><tspan x="1981" dy="15.66">苏锦明副校长指导张江琴（高二），林丽婷老</tspan><tspan x="1981" dy="15.66">师指导庄清海（高二），丁海蓉老师指导颜丹</tspan><tspan x="1981" dy="15.66">凤（高二），王盛科老师指导郑海华（高二）</tspan><tspan x="1981" dy="15.66">，庄碧娟老师指导赖华萍（高二）。努力营造</tspan><tspan x="1981" dy="15.66">教学教研风气，借以带动新教师撰写教学教研</tspan><tspan x="1981" dy="15.66">论文，使本组的教学教研的水平能上一个新台</tspan><tspan x="1981" dy="15.66">阶。根据学校的安排，要求青年教师学习现代</tspan><tspan x="1981" dy="15.66">教育技术，要参加计算机培训，积极学习课件</tspan><tspan x="1981" dy="15.66">制作，参加本学期举行的青年教师现代教育技</tspan><tspan x="1981" dy="15.66">术技能比赛。</tspan></text></g>
<g id="p2-7"><path class="hx" d="M1982,1804H2223L2228,1857.5L2223,1911H1982L1977,1857.5Z"/><text class="t" x="1981" y="1823.5">7、继续开展竞赛活动。教研组要积极配合学<tspan x="1981" dy="15.66">校工作，与政教处、团委会一起搞好本学期几</tspan><tspan x="1981" dy="15.66">次重大活动的征文比赛，如国庆节、校五十年</tspan><tspan x="1981" dy="15.66">校庆、"一二·九"活动和元旦等重大节日。还</tspan><tspan x="1981" dy="15.66">要积极组织学生参加校以上级别的各种征文比</tspan><tspan x="1981" dy="15.66">赛。</tspan></text></g>
<g id="p2-8"><path class="hx" d="M1982,1935H2223L2228,1973L2223,2011H1982L1977,1973Z"/><text class="t" x="1981" y="1954.5">8、继续开展专题活动，提高学习效率，切实<tspan x="1981" dy="15.66">减轻学生负担。高一年、高二年要开好选修课</tspan><tspan x="1981" dy="15.66">，并确立选修课题，高一年为：文学鉴赏，高</tspan><tspan x="1981" dy="15.66">二年为：现代文学与作品。</tspan></text></g>
<g id="p2-9"><path class="hx" d="M1982,2037H2223L2228,2059.5L2223,2082H1982L1977,2059.5Z"/><text class="t" x="1981" y="2056.5">9、组织本教研组参加35周岁以下青年教师教<tspan x="1981" dy="15.66">学技能大赛。</tspan></text></g>
<g id="p2-10"><path class="hx" d="M1982,2107H2223L2228,2153L2223,2199H1982L1977,2153Z"/><text class="t" x="1981" y="2126.5">10、本学期要再继续争取与学校图书馆联系<tspan x="1981" dy="15.66">，腾出晚自修一节课的时间进图书馆，以扩大</tspan><tspan x="1981" dy="15.66">学生的知识面和提高学生的写作水平，扩大学</tspan><tspan x="1981" dy="15.66">生的知识面和提高学生的写作水平是语文组的</tspan><tspan x="1981" dy="15.66">头等大事，一定要当做大事来争取。</tspan></text></g>
<g id="p2-11"><path class="hx" d="M1982,2224H2223L2228,2254L2223,2284H1982L1977,2254Z"/><text class="t" x="1981" y="2243.5">11、积极参与晋江市语文协会的工作和校际活<tspan x="1981" dy="15.66">动，为学校在市语文教研活动和竞赛活动等重</tspan><tspan x="1981" dy="15.66">大活动</tspan></text></g>
<g id="p2-11c"><path class="hx" d="M2258,2231H2502L2507,2253.5L2502,2276H2258L2253,2253.5Z"/><text class="t" x="2257" y="2250.5">中争得更多发言的机会，并为全市的语文教学<tspan x="2257" dy="15.66">做出自己应尽的职责。</tspan></text></g>

<!-- 篇4 -->
<g id="p4"><rect class="lb" x="1411" y="2934" width="259" height="55" rx="10"/><text class="lt" x="1419" y="2956">语文教研组工作计划2023秋季【篇<tspan x="1419" dy="20">4】</tspan></text></g>
<g id="p4-l1"><path class="hx" d="M1699,2372H1785L1790,2386.5L1785,2401H1699L1694,2386.5Z"/><text class="t tc" x="1742" y="2391">一、指导思想：</text></g>
<g id="p4-l1a"><path class="hx" d="M1824,2308H2061L2066,2385L2061,2462H1824L1819,2385Z"/><text class="t" x="1823" y="2327.5">全面贯彻党的教育方针，认真学习先进的教育<tspan x="1823" dy="15.66">思想和新的课程标准，积极投身课程改革，全</tspan><tspan x="1823" dy="15.66">面深化素质教育，以更新观念为前提，以提高</tspan><tspan x="1823" dy="15.66">师资整体素质为核心，以提高课堂教学效率为</tspan><tspan x="1823" dy="15.66">重点，加强教学研究，不断解决教学中的新问</tspan><tspan x="1823" dy="15.66">题，努力培养和提高学生的创新精神和实践能</tspan><tspan x="1823" dy="15.66">力，全面提高教学质量。坚持课题引领，实施</tspan><tspan x="1823" dy="15.66">发展性评价，促进教师专业化发展，从而提高</tspan><tspan x="1823" dy="15.66">广大语文教师的业务素质。</tspan></text></g>
<g id="p4-l2"><path class="hx" d="M1699,2657H1785L1790,2671.5L1785,2686H1699L1694,2671.5Z"/><text class="t tc" x="1742" y="2676">二、工作目标：</text></g>
<g id="p4-g1"><path class="hx" d="M1819,2488H2064L2069,2518L2064,2548H1819L1814,2518Z"/><text class="t" x="1818" y="2507.5">1、抓好信息技术与课堂教学整合，提高教师<tspan x="1818" dy="15.66">制作课件、充分利用多媒体进行语文教学的能</tspan><tspan x="1818" dy="15.66">力。</tspan></text></g>
<g id="p4-g2"><path class="hx" d="M1819,2574H2064L2069,2604L2064,2634H1819L1814,2604Z"/><text class="t" x="1818" y="2593.5">2、继续加强阅读训练，课内指导，课外阅读<tspan x="1818" dy="15.66">，提高学生的阅读水平，丰富学生的语言积累</tspan><tspan x="1818" dy="15.66">。</tspan></text></g>
<g id="p4-g3"><path class="hx" d="M1819,2660H2064L2069,2682.5L2064,2705H1819L1814,2682.5Z"/><text class="t" x="1818" y="2679.5">3、树立大语文观，开展丰富多彩的实践活动<tspan x="1818" dy="15.66">。</tspan></text></g>
<g id="p4-g4"><path class="hx" d="M1819,2730H2035L2040,2744.5L2035,2759H1819L1814,2744.5Z"/><text class="t" x="1818" y="2749">4、树立科学的发展观，提高教学质量。</text></g>
<g id="p4-g5"><path class="hx" d="M1819,2783H2064L2069,2821L2064,2859H1819L1814,2821Z"/><text class="t" x="1818" y="2802.5">5、采取一切可行的方法，提升学生的语文整<tspan x="1818" dy="15.66">体素养，包括学生的听、说、读、写的能力，</tspan><tspan x="1818" dy="15.66">提高学生的语文品位，培养高素质的一代新人</tspan><tspan x="1818" dy="15.66">。</tspan></text></g>
<g id="p4-l3"><path class="hx" d="M1699,3525H1787L1792,3539.5L1787,3554H1699L1694,3539.5Z"/><text class="t tc" x="1743" y="3544">三、主要工作：</text></g>
<g id="p4-i1"><path class="hx" d="M1819,2916H2064L2069,2938.5L2064,2961H1819L1814,2938.5Z"/><text class="t" x="1818" y="2935.5">1、抓好教学常规，将素质教育要求落实到语<tspan x="1818" dy="15.66">文教学中。</tspan></text></g>
<g id="p4-i2"><path class="hx" d="M1819,3096H2010L2015,3110.5L2010,3125H1819L1814,3110.5Z"/><text class="t" x="1818" y="3115">2、强化课改意识，深化教学改革。</text></g>
<g id="p4-i3"><path class="hx" d="M1819,3306H1955L1960,3320.5L1955,3335H1819L1814,3320.5Z"/><text class="t" x="1818" y="3325">3、努力改变教研形式 。</text></g>
<g id="p4-i4"><path class="hx" d="M1819,3494H2035L2040,3508.5L2035,3523H1819L1814,3508.5Z"/><text class="t" x="1818" y="3513">4、加强课题研究，强化课改过程管理。</text></g>
<g id="p4-i5"><path class="hx" d="M1819,3658H2064L2069,3680.5L2064,3703H1819L1814,3680.5Z"/><text class="t" x="1818" y="3677.5">5、加强师资培训，形成一支高素质的教师队<tspan x="1818" dy="15.66">伍。</tspan></text></g>
<g id="p4-i6"><path class="hx" d="M1819,3823H2048L2053,3837.5L2048,3852H1819L1814,3837.5Z"/><text class="t" x="1818" y="3842">6、根据年级特点，培养学生的各种能力。</text></g>
<g id="p4-i7"><path class="hx" d="M1819,3958H2064L2069,3980.5L2064,4003H1819L1814,3980.5Z"/><text class="t" x="1818" y="3977.5">7、继续开展读书活动，提高学生的语文素养<tspan x="1818" dy="15.66">。</tspan></text></g>
<g id="p4-i8"><path class="hx" d="M1819,4125H2048L2053,4139.5L2048,4154H1819L1814,4139.5Z"/><text class="t" x="1818" y="4144">8、组织各种语文活动，让生活充满语文。</text></g>
<g id="p4-w1"><path class="hx" d="M2102,2885H2347L2352,2938.5L2347,2992H2102L2097,2938.5Z"/><text class="t" x="2101" y="2904.5">抓好教学常规是提高教学质量的保证，全<tspan x="2101" dy="15.66">面落实素质教育的保证。抓常规我们以教</tspan><tspan x="2101" dy="15.66">学为中心，以抓学生的学习习惯、能力、</tspan><tspan x="2101" dy="15.66">良好的性格形成为重点。在日常教学中，</tspan><tspan x="2101" dy="15.66">每位老师都认真备课、上课，向四十分钟</tspan><tspan x="2101" dy="15.66">要质量。</tspan></text></g>
<g id="p4-w2"><path class="hx" d="M2049,3017H2286L2291,3110L2286,3203H2049L2044,3110Z"/><text class="t" x="2048" y="3036.5">本学期继续努力探索课程改革与提高教育质量<tspan x="2048" dy="15.66">的结合，促进教师和学生的发展。充分体会"</tspan><tspan x="2048" dy="15.66">新课标"四大特点：参与性、互动性、互助性</tspan><tspan x="2048" dy="15.66">、体验性。努力实现两个"零距离"：向理论学</tspan><tspan x="2048" dy="15.66">习，研究理论发展的最新动态，努力实现与小</tspan><tspan x="2048" dy="15.66">学语文教育改革最前沿的"零距离"；联系实</tspan><tspan x="2048" dy="15.66">际，加强学习，不断转变教学观念，为小学语</tspan><tspan x="2048" dy="15.66">文课程改革深入发展积淀底蕴；向学生学习，</tspan><tspan x="2048" dy="15.66">研究学生的学习心理，努力促进教师与学生的</tspan><tspan x="2048" dy="15.66">"零距离"，不断提高在小学语文领域里实施素</tspan><tspan x="2048" dy="15.66">质教育的水平。</tspan></text></g>
<g id="p4-w3"><path class="hx" d="M1993,3228H2228L2233,3321L2228,3414H1993L1988,3321Z"/><text class="t" x="1992" y="3247.5">学校教研组是广大青年骨干教师成长成才的摇<tspan x="1992" dy="15.66">篮。教研活动要在"实"上下工夫，在"新"字上</tspan><tspan x="1992" dy="15.66">做文章，要探索参与式、体验式教研活动形式</tspan><tspan x="1992" dy="15.66">，激发教师参与教研的主体意识和创造热情，</tspan><tspan x="1992" dy="15.66">鼓励教师合作、交流，共享教研成果，切实提</tspan><tspan x="1992" dy="15.66">高教研活动的实效性。我们计划加强教研的多</tspan><tspan x="1992" dy="15.66">向交流，加大教研的参与面，形式上不拘一格</tspan><tspan x="1992" dy="15.66">，内容可以学习新课标、解读新理念及分析新</tspan><tspan x="1992" dy="15.66">教材特点及教学建议，关注教学中的难点、亮</tspan><tspan x="1992" dy="15.66">点、热点，活动前注意资料的收集工作，做到</tspan><tspan x="1992" dy="15.66">每次每人都有发言。</tspan></text></g>
<g id="p4-w4"><path class="hx" d="M2073,3439H2311L2316,3508.5L2311,3578H2073L2068,3508.5Z"/><text class="t" x="2072" y="3458.5">根据学校、教研组课题组的实施方案，订好本<tspan x="2072" dy="15.66">学期的实施计划。有计划，有步骤地明确本学</tspan><tspan x="2072" dy="15.66">期的研究任务。围绕学校总课题明确相应的子</tspan><tspan x="2072" dy="15.66">课题，分层突破，推动课题研究向纵深发展。</tspan><tspan x="2072" dy="15.66">以课题为载体，加强会课实践，提高教育教学</tspan><tspan x="2072" dy="15.66">的质量。倡导45周岁以下的教师围绕着"我的</tspan><tspan x="2072" dy="15.66">教育想法"、"我的教育故事"、"我的教学故事</tspan><tspan x="2072" dy="15.66">"撰写文章。</tspan></text></g>
<g id="p4-w5"><path class="hx" d="M2099,3603H2342L2347,3680L2342,3757H2099L2094,3680Z"/><text class="t" x="2098" y="3622.5">我们着手准备做好以下工作：（1）苦练内功<tspan x="2098" dy="15.66">：全体教师特别是青年教师自觉加压、努力使</tspan><tspan x="2098" dy="15.66">每节课都成为有质量的研究课。（2）语文教</tspan><tspan x="2098" dy="15.66">师要加强自身教学理论修养和文化修养。（3</tspan><tspan x="2098" dy="15.66">）青年教师上好评议课。本学期仍确定两位青</tspan><tspan x="2098" dy="15.66">年教师，在中老年教师的指导下上好评议课，</tspan><tspan x="2098" dy="15.66">尽快提高他们的教学水平。（4）鼓励语文老</tspan><tspan x="2098" dy="15.66">师勤于笔耕。希望老师们能经常写教学反思，</tspan><tspan x="2098" dy="15.66">这对提高自身的教学水平是非常有好处的。</tspan></text></g>
<g id="p4-w6"><path class="hx" d="M2085,3782H2323L2328,3835.5L2323,3889H2085L2080,3835.5Z"/><text class="t" x="2084" y="3801.5">对一、二年级的学生要注重语文良好行为习惯<tspan x="2084" dy="15.66">的养成，培养学生的写字基本功；三、四年级</tspan><tspan x="2084" dy="15.66">的学生，在培养写字能力的基础上，培养他们</tspan><tspan x="2084" dy="15.66">的读、写、听、说能力；五、六年级的学生要</tspan><tspan x="2084" dy="15.66">着重培养提高他们的写作能力和水平，要鼓励</tspan><tspan x="2084" dy="15.66">他们，力争学生的作文能够发表。</tspan></text></g>
<g id="p4-w7a"><path class="hx" d="M2099,3915H2342L2347,3937.5L2342,3960H2099L2094,3937.5Z"/><text class="t" x="2098" y="3934.5">为营造书香校园，培养学生的阅读兴趣，提高<tspan x="2098" dy="15.66">学生的阅读水平，</tspan></text></g>
<g id="p4-w7b"><path class="hx" d="M2099,3984H2342L2347,4022L2342,4060H2099L2094,4022Z"/><text class="t" x="2098" y="4003.5">提高学生的语文素养，本学期，继续开展师生<tspan x="2098" dy="15.66">共同读书活动，班级在活动期间，还将组织演</tspan><tspan x="2098" dy="15.66">讲、朗诵、读书笔记展览、口头作文等各项年</tspan><tspan x="2098" dy="15.66">级活动。</tspan></text></g>
<g id="p4-w8"><path class="hx" d="M2085,4087H2325L2330,4140.5L2325,4194H2085L2080,4140.5Z"/><text class="t" x="2084" y="4106.5">结合传统节日和学校工作安排，组织学生开展<tspan x="2084" dy="15.66">丰富多彩的语文活动。如：三八节前夕，组织</tspan><tspan x="2084" dy="15.66">、引导学生开展感谢母亲的活动：制作贺卡、</tspan><tspan x="2084" dy="15.66">给妈妈写感谢信等。端午节时讲端午节的故事</tspan><tspan x="2084" dy="15.66">或屈原的故事，六一举行庆六一书法作品展览</tspan><tspan x="2084" dy="15.66">、诗歌朗诵比赛等。</tspan></text></g>

<g id="watermarks" class="wm">
<text transform="translate(345,756) rotate(-33)">树图 shutu.cn</text>
<text transform="translate(345,1735) rotate(-33)">树图 shutu.cn</text>
<text transform="translate(345,2710) rotate(-33)">树图 shutu.cn</text>
<text transform="translate(345,3700) rotate(-33)">树图 shutu.cn</text>
<text transform="translate(345,4690) rotate(-33)">树图 shutu.cn</text>
<text transform="translate(1623,756) rotate(-33)">树图 shutu.cn</text>
<text transform="translate(1623,1735) rotate(-33)">树图 shutu.cn</text>
<text transform="translate(1623,2710) rotate(-33)">树图 shutu.cn</text>
<text transform="translate(1623,3700) rotate(-33)">树图 shutu.cn</text>
<text transform="translate(1623,4690) rotate(-33)">树图 shutu.cn</text>
</g>
</g>
</svg>
